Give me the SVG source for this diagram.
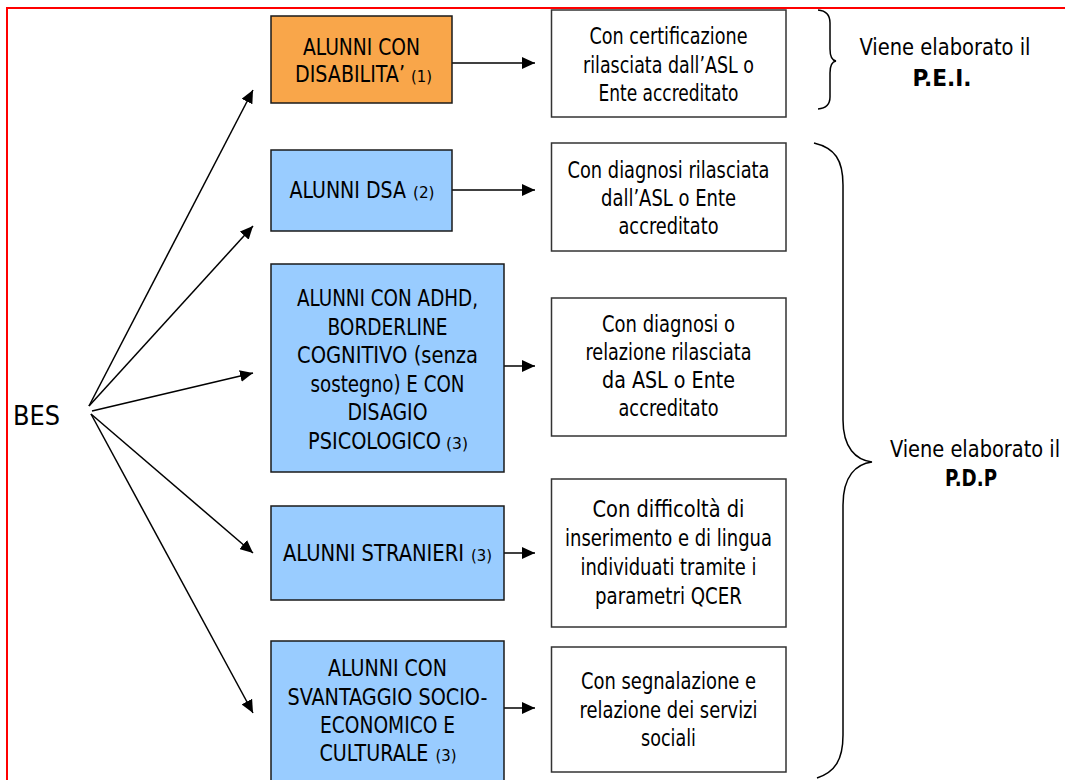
<svg xmlns="http://www.w3.org/2000/svg" width="1065" height="780" viewBox="0 0 1065 780">
<style>
text{font-family:'DejaVu Sans Condensed','DejaVu Sans',sans-serif;font-stretch:condensed;font-size:23px;fill:#000;text-anchor:middle}
text.l{text-anchor:start}
text.sm{font-size:16px;text-anchor:start}
.b{font-weight:bold}
.bes{font-size:27px;text-anchor:start}
.org{fill:#F9A64A;stroke:#1a1a1a;stroke-width:1.5}
.blu{fill:#99CCFF;stroke:#1a1a1a;stroke-width:1.5}
.wht{fill:#fff;stroke:#333;stroke-width:1.5}
.con{stroke:#000;stroke-width:1.5;fill:none;marker-end:url(#ah)}
.brace{stroke:#000;stroke-width:1.5;fill:none}
</style>
<defs>
<marker id="ah" viewBox="0 0 13 12" refX="13" refY="6" markerWidth="13" markerHeight="12" markerUnits="userSpaceOnUse" orient="auto">
<path d="M0,0 L13,6 L0,12 z" fill="#000"/>
</marker>
</defs>
<rect width="1065" height="780" fill="#fff"/>
<path d="M7,781 L7,8 L1066,8" fill="none" stroke="#f00" stroke-width="2"/>

<g id="bes"><text class="bes" x="13" y="425" textLength="47" lengthAdjust="spacingAndGlyphs">BES</text></g>

<g id="connectors">
<line class="con" x1="89" y1="406" x2="253" y2="90"/>
<line class="con" x1="89" y1="406" x2="253" y2="226"/>
<line class="con" x1="92" y1="411" x2="253" y2="373"/>
<line class="con" x1="91" y1="414" x2="253" y2="553"/>
<line class="con" x1="91" y1="414" x2="253" y2="713"/>
<line class="con" x1="452" y1="63" x2="535" y2="63"/>
<line class="con" x1="452" y1="190" x2="535" y2="190"/>
<line class="con" x1="504" y1="366" x2="535" y2="366"/>
<line class="con" x1="504" y1="553" x2="535" y2="553"/>
<line class="con" x1="504" y1="708" x2="535" y2="708"/>
</g>

<g id="n-disabilita">
<rect class="org" x="271" y="16" width="181" height="87"/>
<text x="361.5" y="55" textLength="117" lengthAdjust="spacingAndGlyphs">ALUNNI CON</text>
<text class="l" transform="translate(295,82) scale(0.911,1)" x="0" y="0" textLength="120.7" lengthAdjust="spacingAndGlyphs">DISABILITA’</text>
<text class="sm" x="411" y="82" textLength="21" lengthAdjust="spacingAndGlyphs">(1)</text>
</g>
<g id="n-dsa">
<rect class="blu" x="271" y="150" width="181" height="81"/>
<text class="l" transform="translate(289.5,198) scale(0.912,1)" x="0" y="0" textLength="127.7" lengthAdjust="spacingAndGlyphs">ALUNNI DSA</text>
<text class="sm" x="413" y="198" textLength="21.5" lengthAdjust="spacingAndGlyphs">(2)</text>
</g>
<g id="n-adhd">
<rect class="blu" x="271" y="264" width="233" height="208"/>
<text x="387.5" y="306" textLength="181" lengthAdjust="spacingAndGlyphs">ALUNNI CON ADHD,</text>
<text x="387.5" y="334.5" textLength="120" lengthAdjust="spacingAndGlyphs">BORDERLINE</text>
<text x="387.5" y="363" textLength="181" lengthAdjust="spacingAndGlyphs">COGNITIVO (senza</text>
<text x="387.5" y="391.5" textLength="154" lengthAdjust="spacingAndGlyphs">sostegno) E CON</text>
<text x="387.5" y="420" textLength="80" lengthAdjust="spacingAndGlyphs">DISAGIO</text>
<text class="l" transform="translate(308,448.5) scale(0.93,1)" x="0" y="0" textLength="143" lengthAdjust="spacingAndGlyphs">PSICOLOGICO</text>
<text class="sm" x="446" y="448.5" textLength="22" lengthAdjust="spacingAndGlyphs">(3)</text>
</g>
<g id="n-stranieri">
<rect class="blu" x="271" y="506" width="233" height="94"/>
<text class="l" transform="translate(283,561) scale(0.935,1)" x="0" y="0" textLength="193.6" lengthAdjust="spacingAndGlyphs">ALUNNI STRANIERI</text>
<text class="sm" x="471" y="561" textLength="21" lengthAdjust="spacingAndGlyphs">(3)</text>
</g>
<g id="n-svantaggio">
<rect class="blu" x="271" y="641" width="233" height="145"/>
<text x="387.5" y="676" textLength="119" lengthAdjust="spacingAndGlyphs">ALUNNI CON</text>
<text x="387.5" y="704.5" textLength="200" lengthAdjust="spacingAndGlyphs">SVANTAGGIO SOCIO-</text>
<text x="387.5" y="732.5" textLength="135" lengthAdjust="spacingAndGlyphs">ECONOMICO E</text>
<text class="l" transform="translate(319.5,761) scale(0.893,1)" x="0" y="0" textLength="122" lengthAdjust="spacingAndGlyphs">CULTURALE</text>
<text class="sm" x="435.5" y="761" textLength="21" lengthAdjust="spacingAndGlyphs">(3)</text>
</g>

<g id="n-cert">
<rect class="wht" x="551.5" y="10" width="234.5" height="107"/>
<text x="668.5" y="44" textLength="158" lengthAdjust="spacingAndGlyphs">Con certificazione</text>
<text x="668.5" y="72.5" textLength="171" lengthAdjust="spacingAndGlyphs">rilasciata dall’ASL o</text>
<text x="668.5" y="101" textLength="140" lengthAdjust="spacingAndGlyphs">Ente accreditato</text>
</g>
<g id="n-diag1">
<rect class="wht" x="551.5" y="143" width="234.5" height="108"/>
<text x="668.5" y="178" textLength="202" lengthAdjust="spacingAndGlyphs">Con diagnosi rilasciata</text>
<text x="668.5" y="206" textLength="135" lengthAdjust="spacingAndGlyphs">dall’ASL o Ente</text>
<text x="668.5" y="233.5" textLength="100" lengthAdjust="spacingAndGlyphs">accreditato</text>
</g>
<g id="n-diag2">
<rect class="wht" x="551.5" y="298" width="234.5" height="138"/>
<text x="668.5" y="331.5" textLength="133" lengthAdjust="spacingAndGlyphs">Con diagnosi o</text>
<text x="668.5" y="360" textLength="166" lengthAdjust="spacingAndGlyphs">relazione rilasciata</text>
<text x="668.5" y="388" textLength="133" lengthAdjust="spacingAndGlyphs">da ASL o Ente</text>
<text x="668.5" y="416" textLength="100" lengthAdjust="spacingAndGlyphs">accreditato</text>
</g>
<g id="n-diff">
<rect class="wht" x="551.5" y="479" width="234.5" height="148"/>
<text x="668.5" y="517" textLength="152" lengthAdjust="spacingAndGlyphs">Con difficoltà di</text>
<text x="668.5" y="546" textLength="207" lengthAdjust="spacingAndGlyphs">inserimento e di lingua</text>
<text x="668.5" y="575" textLength="176" lengthAdjust="spacingAndGlyphs">individuati tramite i</text>
<text x="668.5" y="604" textLength="147" lengthAdjust="spacingAndGlyphs">parametri QCER</text>
</g>
<g id="n-segn">
<rect class="wht" x="551.5" y="647" width="234.5" height="125"/>
<text x="668.5" y="689" textLength="175" lengthAdjust="spacingAndGlyphs">Con segnalazione e</text>
<text x="668.5" y="717.5" textLength="178" lengthAdjust="spacingAndGlyphs">relazione dei servizi</text>
<text x="668.5" y="746" textLength="55" lengthAdjust="spacingAndGlyphs">sociali</text>
</g>

<g id="brace-pei">
<path class="brace" d="M818,10 Q830,11 830,23 L830,49 Q830,60 836,61 Q830,62 830,73 L830,97 Q830,108 818,109"/>
<text x="945" y="55" textLength="171" lengthAdjust="spacingAndGlyphs">Viene elaborato il</text>
<text class="b" x="942" y="86" textLength="59" lengthAdjust="spacingAndGlyphs">P.E.I.</text>
</g>
<g id="brace-pdp">
<path class="brace" d="M814,143 C835,148 843,160 843,185 L843,420 C843,448 856,460 872,462 C856,464 843,476 843,505 L843,735 C843,760 835,772 817,778"/>
<text transform="translate(975,457) scale(0.93,1)" x="0" y="0" textLength="183" lengthAdjust="spacingAndGlyphs">Viene elaborato il</text>
<text class="b" x="971" y="486" textLength="52" lengthAdjust="spacingAndGlyphs">P.D.P</text>
</g>
</svg>
